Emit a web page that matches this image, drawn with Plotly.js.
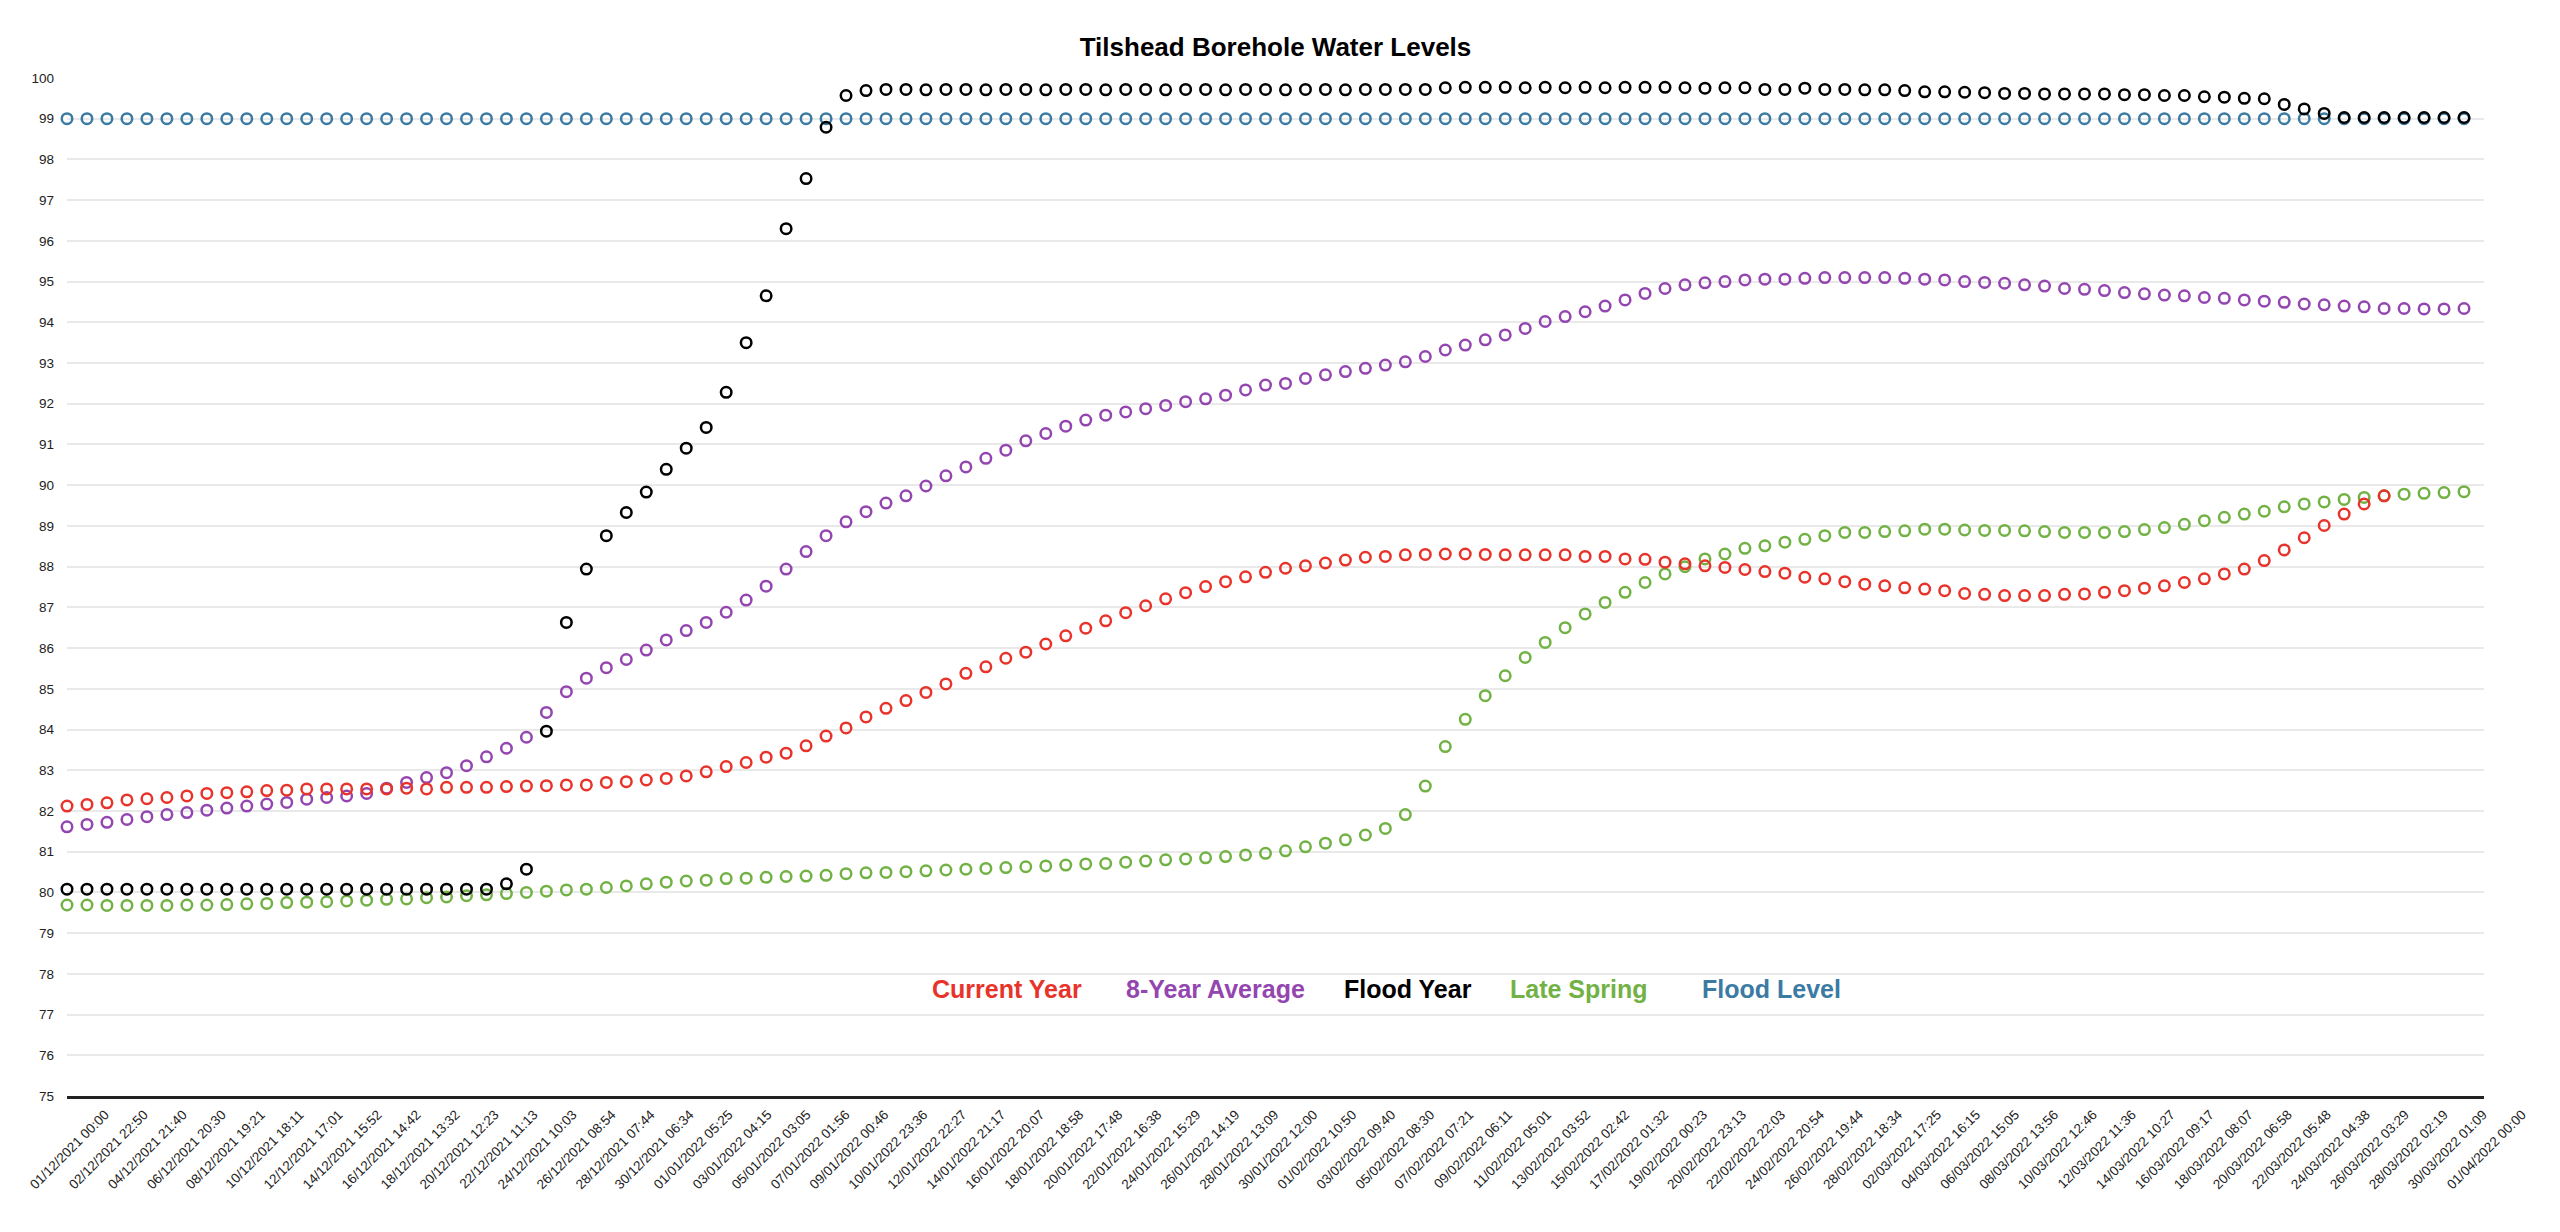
<!DOCTYPE html>
<html>
<head>
<meta charset="utf-8">
<script src="https://cdn.plot.ly/plotly-3.0.1.min.js"></script>
<style>
  html, body { margin: 0; padding: 0; background: #ffffff; }
  #chart { width: 2560px; height: 1232px; }
</style>
</head>
<body>
<div id="chart"></div>
<script>
// ---------- DATA ----------
var startDay = '2021-12-01';
var endDay = '2022-04-01';
var dayCount = 121;          // one reading per day, 01/12/2021 .. 31/03/2022

var tickLabels = [
  '01/12/2021 00:00','02/12/2021 22:50','04/12/2021 21:40','06/12/2021 20:30','08/12/2021 19:21',
  '10/12/2021 18:11','12/12/2021 17:01','14/12/2021 15:52','16/12/2021 14:42','18/12/2021 13:32',
  '20/12/2021 12:23','22/12/2021 11:13','24/12/2021 10:03','26/12/2021 08:54','28/12/2021 07:44',
  '30/12/2021 06:34','01/01/2022 05:25','03/01/2022 04:15','05/01/2022 03:05','07/01/2022 01:56',
  '09/01/2022 00:46','10/01/2022 23:36','12/01/2022 22:27','14/01/2022 21:17','16/01/2022 20:07',
  '18/01/2022 18:58','20/01/2022 17:48','22/01/2022 16:38','24/01/2022 15:29','26/01/2022 14:19',
  '28/01/2022 13:09','30/01/2022 12:00','01/02/2022 10:50','03/02/2022 09:40','05/02/2022 08:30',
  '07/02/2022 07:21','09/02/2022 06:11','11/02/2022 05:01','13/02/2022 03:52','15/02/2022 02:42',
  '17/02/2022 01:32','19/02/2022 00:23','20/02/2022 23:13','22/02/2022 22:03','24/02/2022 20:54',
  '26/02/2022 19:44','28/02/2022 18:34','02/03/2022 17:25','04/03/2022 16:15','06/03/2022 15:05',
  '08/03/2022 13:56','10/03/2022 12:46','12/03/2022 11:36','14/03/2022 10:27','16/03/2022 09:17',
  '18/03/2022 08:07','20/03/2022 06:58','22/03/2022 05:48','24/03/2022 04:38','26/03/2022 03:29',
  '28/03/2022 02:19','30/03/2022 01:09','01/04/2022 00:00'
];

var currentYear = [
  82.12,82.16,82.20,82.27,82.30,82.33,82.37,82.43,82.45,82.47,
  82.50,82.51,82.54,82.54,82.54,82.54,82.54,82.56,82.54,82.58,
  82.58,82.58,82.60,82.61,82.62,82.64,82.64,82.70,82.72,82.76,
  82.80,82.86,82.96,83.09,83.19,83.32,83.42,83.60,83.84,84.04,
  84.31,84.52,84.71,84.91,85.12,85.38,85.54,85.75,85.90,86.10,
  86.30,86.49,86.67,86.87,87.04,87.21,87.36,87.51,87.63,87.75,
  87.86,87.96,88.02,88.09,88.16,88.23,88.25,88.29,88.30,88.31,
  88.31,88.30,88.29,88.29,88.29,88.29,88.25,88.25,88.19,88.18,
  88.11,88.07,88.02,87.98,87.93,87.88,87.84,87.74,87.70,87.63,
  87.57,87.53,87.48,87.45,87.41,87.34,87.32,87.29,87.29,87.29,
  87.32,87.33,87.37,87.41,87.47,87.53,87.61,87.70,87.82,87.94,
  88.15,88.41,88.71,89.01,89.29,89.54,89.74
];

var eightYearAverage = [
  81.61,81.67,81.72,81.79,81.86,81.91,81.96,82.02,82.07,82.12,
  82.17,82.21,82.29,82.33,82.37,82.43,82.56,82.70,82.82,82.94,
  83.11,83.33,83.54,83.81,84.42,84.93,85.26,85.52,85.72,85.95,
  86.20,86.43,86.63,86.88,87.18,87.52,87.94,88.37,88.76,89.10,
  89.35,89.56,89.74,89.98,90.23,90.45,90.66,90.86,91.09,91.27,
  91.45,91.60,91.72,91.80,91.88,91.96,92.05,92.12,92.21,92.34,
  92.46,92.50,92.62,92.71,92.79,92.87,92.95,93.03,93.16,93.32,
  93.44,93.57,93.69,93.85,94.02,94.14,94.26,94.40,94.55,94.71,
  94.83,94.92,94.97,95.00,95.04,95.06,95.06,95.08,95.10,95.10,
  95.10,95.10,95.08,95.06,95.04,95.00,94.98,94.96,94.92,94.89,
  94.83,94.81,94.78,94.73,94.70,94.67,94.65,94.61,94.59,94.55,
  94.52,94.49,94.45,94.43,94.40,94.38,94.34,94.34,94.33,94.33,
  94.34
];

var floodYear = [
  80.08,80.08,80.08,80.08,80.08,80.08,80.08,80.08,80.08,80.08,
  80.08,80.08,80.08,80.08,80.08,80.08,80.08,80.08,80.08,80.08,
  80.08,80.08,80.21,80.57,83.96,86.63,87.94,88.76,89.33,89.83,
  90.39,90.91,91.42,92.28,93.50,94.65,96.30,97.53,98.79,99.57,
  99.69,99.72,99.72,99.71,99.72,99.72,99.71,99.72,99.72,99.71,
  99.72,99.72,99.71,99.72,99.72,99.71,99.72,99.72,99.71,99.72,
  99.72,99.71,99.72,99.72,99.71,99.72,99.72,99.72,99.72,99.76,
  99.77,99.77,99.77,99.76,99.77,99.76,99.77,99.76,99.77,99.77,
  99.77,99.76,99.75,99.76,99.76,99.72,99.72,99.75,99.72,99.72,
  99.71,99.71,99.69,99.66,99.66,99.65,99.64,99.62,99.62,99.61,
  99.61,99.61,99.61,99.59,99.59,99.57,99.57,99.54,99.53,99.50,
  99.49,99.35,99.24,99.13,99.03,99.03,99.03,99.03,99.03,99.03,
  99.03
];

var lateSpring = [
  79.69,79.69,79.68,79.68,79.68,79.68,79.69,79.69,79.70,79.72,
  79.73,79.75,79.76,79.77,79.79,79.81,79.83,79.84,79.87,79.89,
  79.92,79.94,79.97,80.00,80.03,80.06,80.08,80.12,80.16,80.21,
  80.25,80.28,80.30,80.34,80.35,80.37,80.39,80.40,80.42,80.46,
  80.48,80.49,80.51,80.53,80.55,80.57,80.59,80.61,80.63,80.65,
  80.67,80.70,80.71,80.74,80.77,80.80,80.82,80.85,80.88,80.92,
  80.96,81.02,81.12,81.21,81.29,81.41,81.57,81.91,82.61,83.58,
  84.25,84.83,85.32,85.77,86.14,86.50,86.84,87.12,87.37,87.61,
  87.82,88.00,88.19,88.31,88.45,88.51,88.60,88.67,88.76,88.84,
  88.84,88.86,88.88,88.92,88.92,88.90,88.89,88.89,88.88,88.86,
  88.84,88.84,88.84,88.86,88.91,88.96,89.04,89.13,89.21,89.29,
  89.36,89.47,89.54,89.59,89.65,89.70,89.74,89.78,89.80,89.82,
  89.84
];

var floodLevel = [
  99,99,99,99,99,99,99,99,99,99,99,99,99,99,99,99,99,99,99,99,
  99,99,99,99,99,99,99,99,99,99,99,99,99,99,99,99,99,99,99,99,
  99,99,99,99,99,99,99,99,99,99,99,99,99,99,99,99,99,99,99,99,
  99,99,99,99,99,99,99,99,99,99,99,99,99,99,99,99,99,99,99,99,
  99,99,99,99,99,99,99,99,99,99,99,99,99,99,99,99,99,99,99,99,
  99,99,99,99,99,99,99,99,99,99,99,99,99,99,99,99,99,99,99,99,
  99
];

var seriesNames  = ['Current Year', '8-Year Average', 'Flood Year', 'Late Spring', 'Flood Level'];
var seriesColors = ['#e8332b', '#9446b0', '#000000', '#72b244', '#3b7ba3'];

// ---------- BUILD ----------
function dayString(i) {
  var d = new Date(Date.UTC(2021, 11, 1) + i * 86400000);
  return d.toISOString().slice(0, 10);
}
var days = [];
for (var i = 0; i < dayCount; i++) days.push(dayString(i));

function labelToDate(s) {
  // "DD/MM/YYYY HH:MM" -> "YYYY-MM-DD HH:MM"
  var p = s.split(' ');
  var d = p[0].split('/');
  return d[2] + '-' + d[1] + '-' + d[0] + ' ' + p[1];
}
var tickVals = tickLabels.map(labelToDate);

var seriesValues = [currentYear, eightYearAverage, floodYear, lateSpring, floodLevel];

var FONT = '"Liberation Sans", Arial, Helvetica, sans-serif';

// draw order: first series on top (drawn last)
var traces = [];
for (var s = seriesValues.length - 1; s >= 0; s--) {
  traces.push({
    type: 'scatter',
    mode: 'markers',
    name: seriesNames[s],
    x: days.slice(0, seriesValues[s].length),
    y: seriesValues[s],
    cliponaxis: false,
    showlegend: false,
    marker: {
      symbol: 'circle-open',
      size: 10.5,
      color: seriesColors[s],
      line: { width: 2.5, color: seriesColors[s] }
    }
  });
}

// plot geometry (pixels) used to place the text legend
var plotL = 67, plotR = 2484, plotT = 78, plotB = 1096;
var legendCentersPx = [1007, 1215, 1408, 1579, 1771];
var legendYpx = 989;

var annotations = seriesNames.map(function (n, k) {
  return {
    text: n,
    xref: 'paper', yref: 'paper',
    x: (legendCentersPx[k] - plotL) / (plotR - plotL),
    y: (plotB - legendYpx) / (plotB - plotT),
    xanchor: 'center', yanchor: 'middle',
    showarrow: false,
    font: { family: FONT, size: 25, color: seriesColors[k], weight: 'bold' }
  };
});

var layout = {
  width: 2560,
  height: 1232,
  margin: { l: plotL, r: 2560 - plotR, t: plotT, b: 1232 - plotB, pad: 0 },
  paper_bgcolor: '#ffffff',
  plot_bgcolor: '#ffffff',
  showlegend: false,
  title: {
    text: 'Tilshead Borehole Water Levels',
    font: { family: FONT, size: 26, color: '#000000', weight: 'bold' },
    x: 0.5, xref: 'paper', xanchor: 'center',
    y: 1 - 47 / 1232, yref: 'container', yanchor: 'middle'
  },
  xaxis: {
    type: 'date',
    range: [startDay, endDay],
    tickmode: 'array',
    tickvals: tickVals,
    ticktext: tickLabels,
    tickangle: -45,
    ticklabelshift: 38,
    ticklabelstandoff: 3,
    tickfont: { family: FONT, size: 13.5, color: '#222222' },
    showgrid: false,
    zeroline: false,
    showline: true,
    linecolor: '#222222',
    linewidth: 2.5,
    ticks: '',
    fixedrange: true
  },
  yaxis: {
    range: [75, 100],
    tickmode: 'linear',
    tick0: 75,
    dtick: 1,
    tickfont: { family: FONT, size: 13.5, color: '#222222' },
    showgrid: true,
    gridcolor: '#e9e9e9',
    gridwidth: 2,
    zeroline: false,
    showline: false,
    ticks: '',
    ticklabelstandoff: 12,
    fixedrange: true
  },
  annotations: annotations
};

Plotly.newPlot('chart', traces, layout, { displayModeBar: false, staticPlot: true });
</script>
</body>
</html>
